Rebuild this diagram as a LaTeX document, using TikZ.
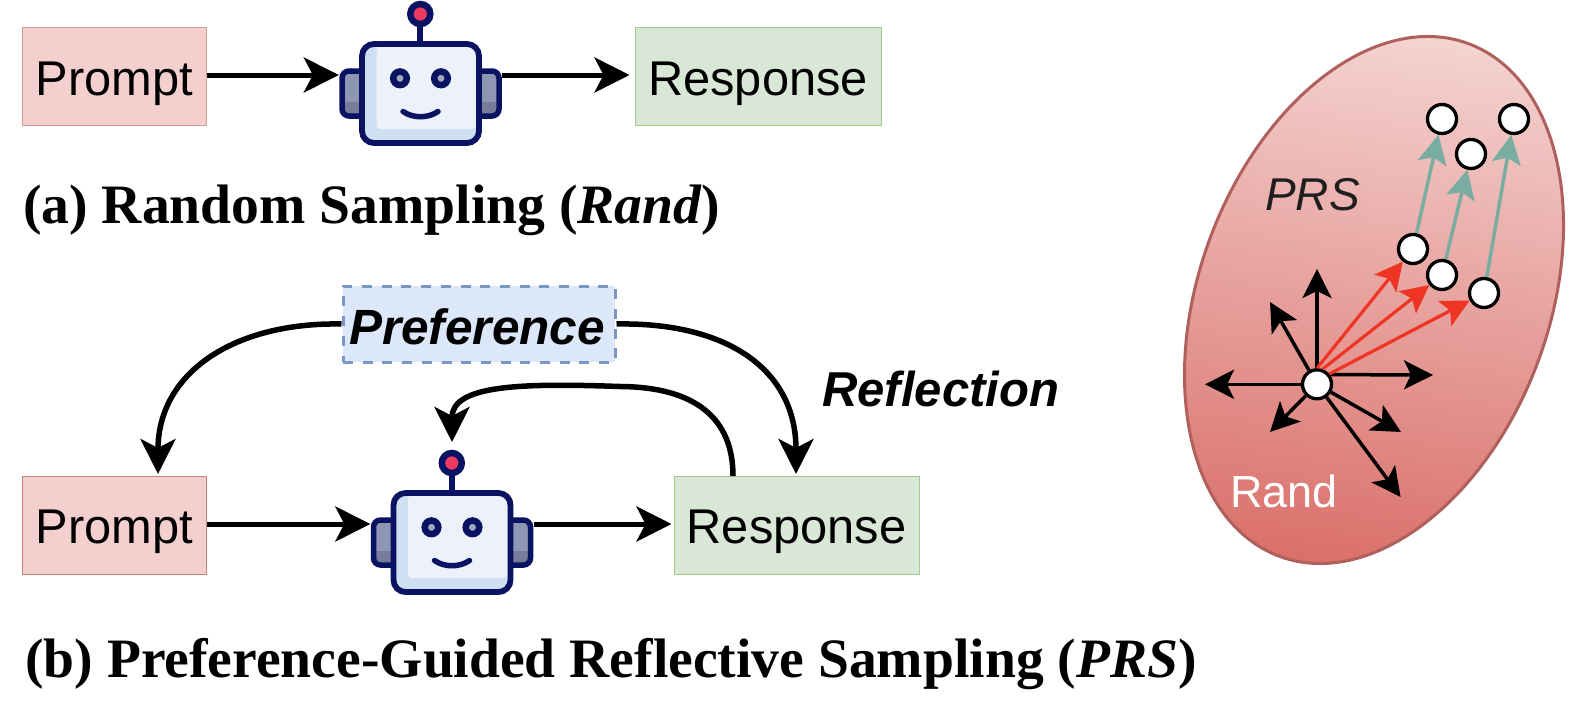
\documentclass[tikz,border=0pt]{standalone}
\usepackage{fontspec}
\setmainfont{Liberation Sans}
\newfontfamily\serifhead{Liberation Serif}
\usetikzlibrary{arrows.meta,shapes.geometric,calc}
\definecolor{navy}{HTML}{0A1262}
\definecolor{facelight}{HTML}{EDF1FA}
\definecolor{faceshade}{HTML}{CFE0F2}
\definecolor{eargray}{HTML}{8E96B4}
\definecolor{eardark}{HTML}{767C99}
\definecolor{ballred}{HTML}{EE3A61}
\definecolor{eyegray}{HTML}{A0A6BC}
\definecolor{arrred}{HTML}{EE3524}
\definecolor{arrgreen}{HTML}{7AADA1}
\definecolor{promptfill}{HTML}{F3CFCE}
\definecolor{promptlinea}{HTML}{D49A98}
\definecolor{promptlineb}{HTML}{C97F7B}
\definecolor{respline}{HTML}{A5C88F}
\definecolor{respfill}{HTML}{D9E7D6}
\definecolor{prefline}{HTML}{7C96C4}
\definecolor{preffill}{HTML}{DCE7F9}
\definecolor{blobtop}{HTML}{F4D4D2}
\definecolor{blobbot}{HTML}{DA6F69}
\definecolor{blobline}{HTML}{B0605C}
\tikzset{
  x=1pt,y=1pt,
  promptbox/.style={draw=#1,line width=1pt,fill=promptfill,minimum height=98pt,inner sep=0pt,font=\fontsize{48.8}{48}\selectfont,text height=47pt,text depth=10pt},
  responsebox/.style={draw=respline,line width=1pt,fill=respfill,minimum height=98pt,inner sep=0pt,font=\fontsize{48.8}{48}\selectfont,text height=47pt,text depth=10pt},
  prefbox/.style={draw=prefline,line width=3pt,dash pattern=on 10pt off 9.7pt,fill=preffill,inner sep=0pt,minimum width=272pt,minimum height=76pt,font=\fontsize{49.5}{48}\selectfont\bfseries\itshape,text height=46pt,text depth=6pt},
  flow/.style={line width=5pt,-{Stealth[length=35pt,width=35pt,inset=9pt]}},
  curveflow/.style={line width=5.5pt,-{Stealth[length=35pt,width=35pt,inset=9pt]}},
  robotframe/.style={minimum width=163pt,minimum height=144pt,inner sep=0pt},
  headline/.style={anchor=base west,inner sep=0pt,font=\serifhead\bfseries\fontsize{55.6}{56}\selectfont},
  freelabel/.style={anchor=base west,inner sep=0pt},
  dot/.style={circle,draw=black,line width=3.3pt,fill=white,minimum size=29pt,inner sep=0pt},
  blackray/.style={line width=3.5pt,-{Stealth[length=29pt,width=29pt,inset=7pt]}},
  redray/.style={draw=arrred,line width=3.2pt,-{Stealth[length=28pt,width=28pt,inset=6pt]}},
  greenray/.style={draw=arrgreen,line width=3.5pt,-{Stealth[length=29pt,width=29pt,inset=6pt]}},
}
\newcommand\robotat[2]{%
\begin{scope}[shift={(#1,#2)}]
  % ears
  \begin{scope}
    \clip[rounded corners=7pt] (342,-71) rectangle (365,-116);
    \fill[eargray] (342,-71) rectangle (365,-116);
    \fill[eardark] (342,-102) rectangle (365,-116);
  \end{scope}
  \draw[navy,line width=5.5pt,rounded corners=7pt] (362,-71) -- (342,-71) -- (342,-116) -- (362,-116);
  \begin{scope}
    \clip[rounded corners=7pt] (476,-71) rectangle (499,-116);
    \fill[eargray] (476,-71) rectangle (499,-116);
    \fill[eardark] (476,-102) rectangle (499,-116);
  \end{scope}
  \draw[navy,line width=5.5pt,rounded corners=7pt] (479,-71) -- (499,-71) -- (499,-116) -- (479,-116);
  % antenna
  \draw[navy,line width=6pt] (420.3,-44) -- (420.3,-22);
  \filldraw[draw=navy,fill=ballred,line width=6.5pt] (420.3,-14) circle (10pt);
  % head
  \fill[faceshade,rounded corners=12pt] (362,-44) rectangle (479,-143);
  \fill[facelight,rounded corners=4pt] (376.5,-46) -- (476,-46) -- (476,-129) -- (376.5,-129) -- cycle;
  \draw[navy,line width=5.8pt,rounded corners=12pt] (362,-44) rectangle (479,-143);
  % eyes
  \filldraw[draw=navy,fill=eyegray,line width=6.5pt] (400,-78.3) circle (6.8pt);
  \filldraw[draw=navy,fill=eyegray,line width=6.5pt] (441,-78.3) circle (6.8pt);
  % smile
  \draw[navy,line width=5.5pt,line cap=round] (403,-111.5) .. controls (413,-118.5) and (428,-118.5) .. (438,-111.5);
\end{scope}}
\begin{document}
\begin{tikzpicture}
\useasboundingbox (0,0) rectangle (1586,-712);
% ---- blob
\begin{scope}
  \clip[rotate around={-20.15:(1374,-300)}] (1374,-300) ellipse [x radius=175.2,y radius=273.2];
  \shade[top color=blobtop,bottom color=blobbot,shading angle=-8] (1150,-20) rectangle (1600,-580);
\end{scope}
\draw[blobline,line width=3pt,rotate around={-20.15:(1374,-300)}] (1374,-300) ellipse [x radius=175.2,y radius=273.2];
% ---- top row
\node[promptbox=promptlinea,minimum width=183.5pt] (p1) at (114.25,-76.5) {Prompt};
\node[responsebox,minimum width=246pt] (res1) at (758,-76.5) {Response};
\node[robotframe] (r1) at (420.5,-75) {};
\robotat{0}{0}
\draw[flow] (r1.west -| p1.east) -- (r1.west);
\draw[flow,shorten >=5pt] (r1.east) -- (r1.east -| res1.west);
\node[headline] (cap1) at (23,-223.5) {(a) Random Sampling ({\itshape Rand})};
% ---- bottom row
\node[promptbox=promptlineb,minimum width=183.5pt] (p2) at (114.25,-525) {Prompt};
\node[responsebox,minimum width=245pt] (res2) at (796.5,-525) {Response};
\node[robotframe] (r2) at (452,-524) {};
\robotat{31.5}{-449}
\node[prefbox] (pref) at (479,-324) {\hspace*{-4pt}Preference};
\draw[flow] (r2.west -| p2.east) -- (r2.west);
\draw[flow,shorten >=2pt] (r2.east) -- (r2.east -| res2.west);
\coordinate (prefL) at (pref.west);
\coordinate (prefR) at (pref.east);
\coordinate (ptop) at (158,-476);
\coordinate (rtop) at (796,-476);
\coordinate (rbase) at (733,-476);
\coordinate (loopmid) at (620,-386.5);
\coordinate (balltop) at (452,-442);
\draw[curveflow,shorten >=2pt] (prefL) .. controls (235,-322) and (158,-372) .. (ptop);
\draw[curveflow,shorten >=2pt] (prefR) .. controls (725,-322) and (796,-368) .. (rtop);
\draw[line width=5.5pt] (rbase) .. controls (733,-418) and (695,-387) .. (loopmid);
\draw[curveflow] (loopmid) .. controls (520,-383) and (452,-385) .. (balltop);
\node[freelabel,font=\fontsize{49}{48}\selectfont\bfseries\itshape] (refl) at (822,-406) {Reflection};
\node[headline] (cap2) at (25,-677.5) {(b) Preference-Guided Reflective Sampling ({\itshape PRS})};
% ---- blob contents
\node[freelabel,text=black!88,font=\fontsize{46}{46}\selectfont\itshape] (prs) at (1265,-210) {PRS};
\node[freelabel,text=white,font=\fontsize{45}{44}\selectfont] (rand) at (1230,-507) {Rand};
\node[dot] (o) at (1317,-384.3) {};
\node[dot] (m1) at (1413,-249) {};
\node[dot] (m2) at (1442,-275) {};
\node[dot] (m3) at (1484,-293) {};
\node[dot] (n1) at (1442,-119) {};
\node[dot] (n2) at (1514,-119) {};
\node[dot] (n3) at (1471,-154) {};
\coordinate (tU) at (1317,-269);
\coordinate (tUL) at (1270,-302);
\coordinate (tR) at (1433,-375);
\coordinate (tL) at (1205,-384.3);
\coordinate (tDL) at (1270,-432);
\coordinate (tDR) at (1401,-432);
\coordinate (tDD) at (1400.6,-497);
\draw[blackray] (o) -- (tU);
\draw[blackray] (o) -- (tUL);
\draw[blackray] (o.37) -- (tR);
\draw[blackray] (o) -- (tL);
\draw[blackray] (o) -- (tDL);
\draw[blackray] (o) -- (tDR);
\draw[blackray] (o) -- (tDD);
\draw[redray] (o.90) -- (m1);
\draw[redray] (o.70) -- (m2);
\draw[redray] (o.40) -- (m3);
\draw[greenray] (m1) -- (n1);
\draw[greenray] (m2) -- (n3);
\draw[greenray] (m3) -- (n2);
\end{tikzpicture}
\end{document}
